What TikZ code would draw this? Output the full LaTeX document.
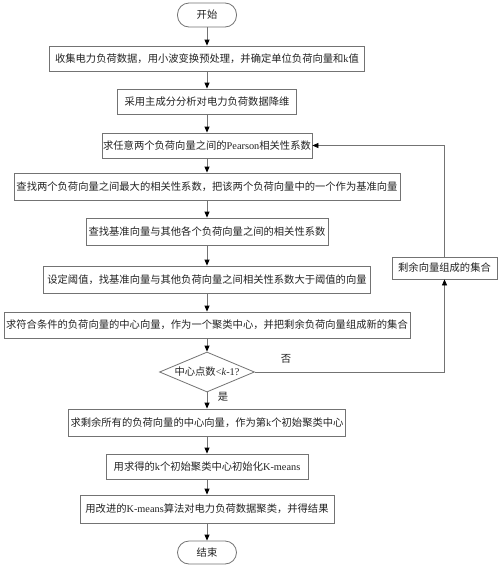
\documentclass[tikz,border=0pt]{standalone}
\usepackage{fontspec}
\setmainfont{Liberation Serif}
\newfontfamily\cjk{Noto Sans CJK SC}
\usetikzlibrary{shapes.geometric,arrows.meta}
\definecolor{linegray}{RGB}{115,115,115}
\definecolor{txt}{RGB}{35,35,35}
\newcommand{\lat}[1]{{\rmfamily #1}}
\tikzset{
  box/.style={draw=linegray, line width=0.8pt, minimum height=25pt, inner sep=0pt,
    text=txt, font=\cjk\fontsize{10.3}{12}\selectfont},
  term/.style={box, rounded corners=11.5pt},
  dec/.style={box, diamond, shape aspect=2.4, minimum width=95pt, minimum height=40pt},
  arr/.style={draw=linegray, line width=0.8pt, -{Triangle[width=5pt,length=6pt,black]}},
  lbl/.style={text=txt, inner sep=0pt, font=\cjk\fontsize{10.3}{12}\selectfont}
}
\begin{document}
\begin{tikzpicture}[x=1pt,y=-1pt]
\useasboundingbox[fill=white] (0,0) rectangle (500,568);
\node[term, minimum width=59pt, minimum height=24pt] (start) at (207,15) {开始};
\node[box, minimum width=315pt] (b1) at (207,58.5) {收集电力负荷数据，用小波变换预处理，并确定单位负荷向量和\lat{k}值};
\node[box, minimum width=179pt] (b2) at (207,101.5) {采用主成分分析对电力负荷数据降维};
\node[box, minimum width=210pt] (b3) at (207,145.5) {求任意两个负荷向量之间的\lat{Pearson}相关性系数};
\node[box, minimum width=386pt, minimum height=27pt] (b4) at (207,186.5) {查找两个负荷向量之间最大的相关性系数，把该两个负荷向量中的一个作为基准向量};
\node[box, minimum width=242pt, minimum height=27pt] (b5) at (207,231.5) {查找基准向量与其他各个负荷向量之间的相关性系数};
\node[box, minimum width=327pt, minimum height=27pt] (b6) at (207,279.5) {设定阈值，找基准向量与其他负荷向量之间相关性系数大于阈值的向量};
\node[box, minimum width=406pt, minimum height=26pt] (b7) at (207,325) {求符合条件的负荷向量的中心向量，作为一个聚类中心，并把剩余负荷向量组成新的集合};
\node[dec] (d) at (207,372) {中心点数\lat{<\textit{k}-1?}};
\node[box, minimum width=277pt, minimum height=27pt] (b8) at (207,422.5) {求剩余所有的负荷向量的中心向量，作为第\lat{k}个初始聚类中心};
\node[box, minimum width=202pt] (b9) at (207,466.5) {用求得的\lat{k}个初始聚类中心初始化\lat{K-means}};
\node[box, minimum width=254pt, minimum height=28pt] (b10) at (207,509) {用改进的\lat{K-means}算法对电力负荷数据聚类，并得结果};
\node[term, minimum width=59pt, minimum height=23pt] (end) at (207,552.5) {结束};
\node[box, minimum width=105pt, minimum height=22pt] (side) at (444.5,268) {剩余向量组成的集合};
\node[lbl] (no) at (286,359) {否};
\node[lbl] (yes) at (223,397) {是};
\coordinate (c1) at (444.5,372);
\draw[arr] (start) -- (b1);
\draw[arr] (b1) -- (b2);
\draw[arr] (b2) -- (b3);
\draw[arr] (b3) -- (b4);
\draw[arr] (b4) -- (b5);
\draw[arr] (b5) -- (b6);
\draw[arr] (b6) -- (b7);
\draw[arr] (b7) -- (d);
\draw[arr] (d) -- (b8);
\draw[arr] (b8) -- (b9);
\draw[arr] (b9) -- (b10);
\draw[arr] (b10) -- (end);
\draw[arr] (d.east) -- (c1) -- (side.south);
\draw[arr] (side.north) |- (b3.east);
\end{tikzpicture}
\end{document}
